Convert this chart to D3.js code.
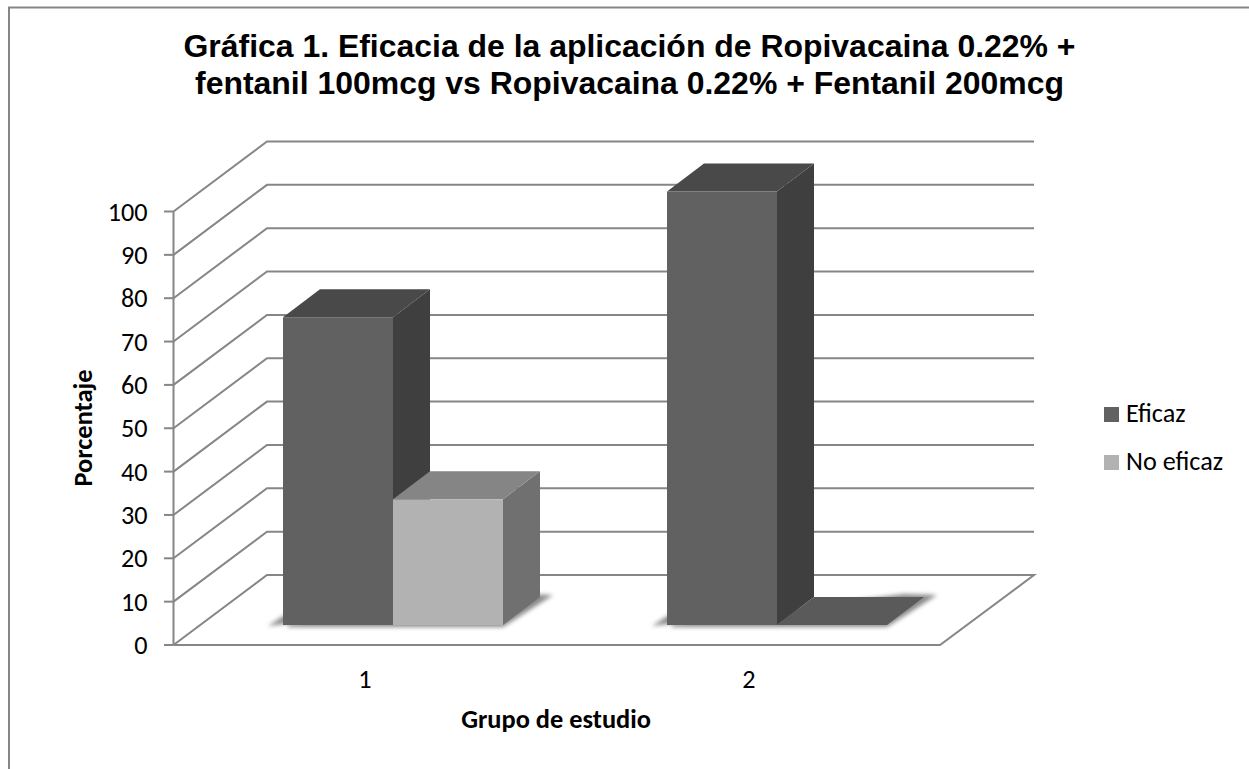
<!DOCTYPE html>
<html><head><meta charset="utf-8">
<script src="https://cdn.jsdelivr.net/npm/d3@7/dist/d3.min.js"></script>
<style>html,body{margin:0;padding:0;background:#fff}svg{display:block}</style></head>
<body><svg id="c" width="1249" height="769"></svg>
<script>
const titleLines = ["Gráfica 1. Eficacia de la aplicación de Ropivacaina 0.22% +", "fentanil 100mcg vs Ropivacaina 0.22% + Fentanil 200mcg"];
const groups = ["1", "2"];
const seriesNames = ["Eficaz", "No eficaz"];
const eficaz = [71, 100];
const noEficaz = [29, 0];
const yTicks = [0,10,20,30,40,50,60,70,80,90,100];
const xTitle = "Grupo de estudio";
const yTitle = "Porcentaje";

const svg = d3.select("#c");
const defs = svg.append("defs");
defs.append("filter").attr("id","blur").attr("x","-20%").attr("y","-50%").attr("width","140%").attr("height","200%")
  .append("feGaussianBlur").attr("stdDeviation",2.2);

const sans = "'Liberation Sans',Arial,sans-serif", cal = "Carlito,Calibri,Lato,sans-serif";
const tickSize = 26.2, axisSize = 26.4;
svg.append("path").attr("d","M9,769V7.5H1249").attr("fill","none").attr("stroke","#868686").attr("stroke-width",2);

svg.append("g").selectAll("text").data(titleLines).join("text")
  .attr("x",629.5).attr("y",(d,i)=>57+i*37).attr("text-anchor","middle")
  .attr("font-family",sans).attr("font-weight",700).attr("font-size",31.95).attr("fill","#000").text(d=>d);

const y = d3.scaleLinear().domain([0,100]).range([645,211.5]);
const wallDx = 93.5, wallDy = -70;
const floorRight = 940;
const grid = "#868686";
const g = svg.append("g").attr("fill","none").attr("stroke",grid);
g.selectAll("path.gl").data(yTicks).join("path").attr("class","gl").attr("stroke-width",2)
  .attr("d",v=> v===0
    ? `M173.5,${y(0)}L${173.5+wallDx},${y(0)+wallDy}H1034L${floorRight},${y(0)}H173.5`
    : `M173.5,${y(v)}L${173.5+wallDx},${y(v)+wallDy}H1034`);
g.append("path").attr("stroke-width",2).attr("d",`M173.5,${y(0)}V${y(100)}`);
g.selectAll("path.tk").data(yTicks).join("path").attr("class","tk").attr("stroke-width",2)
  .attr("d",v=>`M164,${y(v)}H173.5`);

svg.append("g").selectAll("text").data(yTicks).join("text").attr("x",147.5).attr("y",v=>y(v)+9)
  .attr("text-anchor","end").attr("font-family",cal).attr("font-size",tickSize).attr("fill","#000").text(d=>d);

const barBase = 625, k = y(0)-y(1);
const barY = v => barBase - v*k;
const bw = 110, dx = 37, dy = -28;
const scale = d3.scalePoint().domain(groups).range([283,667]);
const colors = [{f:"#616161",t:"#494949",s:"#3f3f3f"},{f:"#b2b2b2",t:"#858585",s:"#707070"}];
const zeroColor = "#5a5a5a";
const bars = [];
groups.forEach((gr,i)=>{
  [eficaz[i],noEficaz[i]].forEach((v,j)=>bars.push({x:scale(gr)+j*bw,v,c:colors[j]}));
});
const shadows = svg.append("g").attr("filter","url(#blur)");
groups.forEach(gr=>{
  const x0 = scale(gr), x1 = x0+2*bw;
  shadows.append("path").attr("fill","#8a8a8a")
    .attr("d",`M${x0-15},${barBase+1}L${x0+5},${barBase-12}V${barBase+2}H${x1}L${x1+dx+13},${barBase+dy-2}L${x1+dx-20},${barBase+dy-3}Z`);
});
const bg = svg.append("g");
bars.forEach(b=>{
  const t = barY(b.v);
  if(b.v===0){
    bg.append("path").attr("fill",zeroColor)
      .attr("d",`M${b.x},${barBase}L${b.x+dx},${barBase+dy}H${b.x+bw+dx}L${b.x+bw},${barBase}Z`);
    return;
  }
  bg.append("path").attr("fill",b.c.s).attr("d",`M${b.x+bw},${t}L${b.x+bw+dx},${t+dy}V${barBase+dy}L${b.x+bw},${barBase}Z`);
  bg.append("path").attr("fill",b.c.t).attr("d",`M${b.x},${t}L${b.x+dx},${t+dy}H${b.x+bw+dx}L${b.x+bw},${t}Z`);
  bg.append("rect").attr("x",b.x).attr("y",t).attr("width",bw).attr("height",barBase-t).attr("fill",b.c.f);
});

svg.append("g").selectAll("text").data(groups).join("text").attr("x",d=>scale(d)+82).attr("y",688)
  .attr("text-anchor","middle").attr("font-family",cal).attr("font-size",tickSize).attr("fill","#000").text(d=>d);
svg.append("text").attr("x",556).attr("y",728).attr("text-anchor","middle").attr("font-family",cal).attr("font-weight",700).attr("font-size",axisSize).text(xTitle);
svg.append("text").attr("transform","translate(92,428) rotate(-90)").attr("text-anchor","middle").attr("font-family",cal).attr("font-weight",700).attr("font-size",axisSize).text(yTitle);

const lg = svg.append("g").selectAll("g").data(seriesNames).join("g").attr("transform",(d,i)=>`translate(1104,${407+i*48})`);
lg.append("rect").attr("width",15).attr("height",15).attr("fill",(d,i)=>colors[i].f);
lg.append("text").attr("x",22).attr("y",14.5).attr("font-family",cal).attr("font-size",tickSize).attr("fill","#000").text(d=>d);
</script></body></html>
